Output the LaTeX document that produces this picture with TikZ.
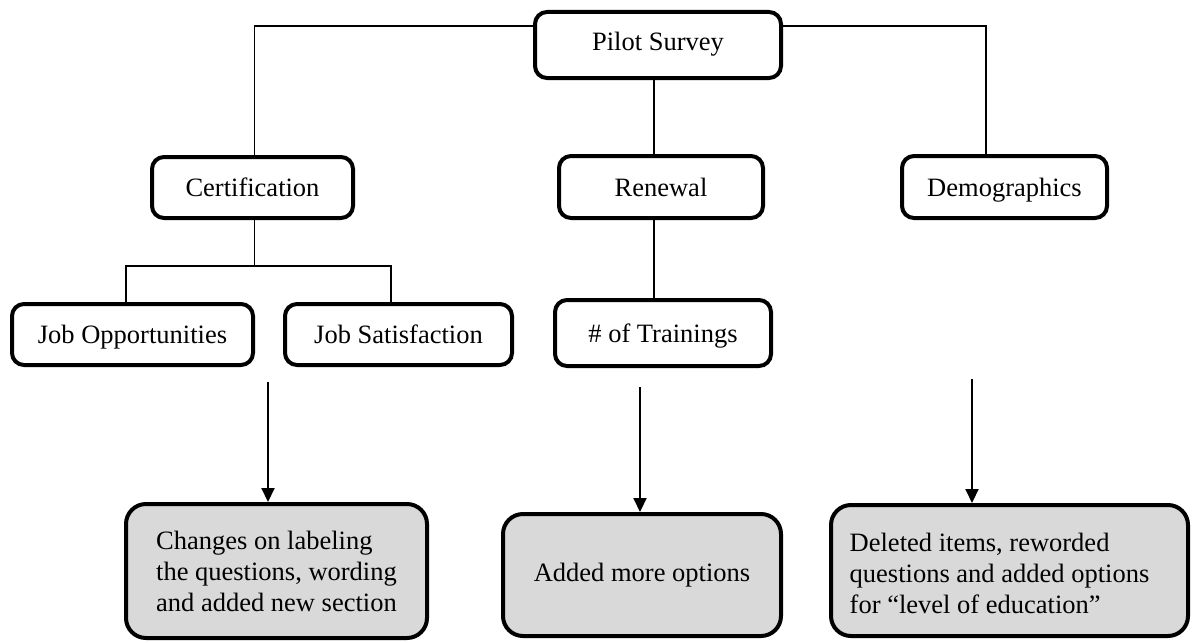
\documentclass[tikz,border=0pt]{standalone}
\usepackage{fontspec}
\setmainfont{Liberation Serif}
\usetikzlibrary{arrows.meta}
\definecolor{boxgray}{HTML}{D9D9D9}
\begin{document}
\begin{tikzpicture}[x=1pt,y=-1pt,
  box/.style={draw, line width=4pt, rounded corners=12pt, inner sep=0pt,
    text height=18.5pt, text depth=0.5pt,
    font=\fontsize{26.5}{31}\selectfont},
  res/.style={draw, line width=4pt, rounded corners=20pt, fill=boxgray, inner sep=0pt,
    font=\fontsize{26.5}{31}\selectfont},
  link/.style={line width=1.3pt},
  arr/.style={line width=2pt, -{Triangle[width=13pt,length=14pt]}}]
\useasboundingbox (0,0) rectangle (1193,642);

\node[box, minimum width=246pt, minimum height=66pt] (pilot) at (658,45) {\raisebox{3pt}{Pilot Survey}};
\node[box, minimum width=201pt, minimum height=61pt] (cert) at (252.5,187.5) {Certification};
\node[box, minimum width=204pt, minimum height=62pt] (renew) at (661,187) {Renewal};
\node[box, minimum width=205pt, minimum height=62pt] (demo) at (1004.5,187) {Demographics};
\node[box, minimum width=241pt, minimum height=61pt] (jobopp) at (132.5,334.5) {Job Opportunities};
\node[box, minimum width=227pt, minimum height=61pt] (jobsat) at (398.5,334.5) {Job Satisfaction};
\node[box, minimum width=216pt, minimum height=66pt] (train) at (663,333) {\# of Trainings\hspace{18pt}};

\node[res, minimum width=301pt, minimum height=134pt, align=left] (box1) at (276.5,571)
  {Changes on labeling\\the questions, wording\\and added new section};
\node[res, minimum width=278pt, minimum height=122pt, align=center] (box2) at (642,575)
  {\raisebox{-3pt}{Added more options}};
\node[res, minimum width=357pt, minimum height=131pt] (box3) at (1009.5,570.5)
  {\raisebox{-6pt}[\height][\depth]{\begin{tabular}{@{}l@{}}Deleted items, reworded\\questions and added options\\for “level of education”\end{tabular}}\hspace*{20pt}};

\draw[link] ([yshift=19pt]pilot.west) -| ([xshift=2pt]cert.north);
\draw[link] ([yshift=19pt]pilot.east) -| ([xshift=-18.5pt]demo.north);
\draw[link] ([xshift=-4pt]pilot.south) -- ([xshift=-4pt]pilot.south |- renew.north);
\draw[link] ([xshift=-7pt]renew.south) -- ([xshift=-7pt]renew.south |- train.north);
\draw[link] ([xshift=2pt]cert.south) -- ++(0,46) coordinate (cj);
\draw[link] ([xshift=-6.5pt]jobopp.north) |- (cj) -| ([xshift=-7.5pt]jobsat.north);

\coordinate (t1) at (268,382);
\coordinate (t2) at (640,387);
\coordinate (t3) at (972,379);
\draw[arr] (t1) -- (t1 |- box1.north);
\draw[arr] (t2) -- (t2 |- box2.north);
\draw[arr] (t3) -- (t3 |- box3.north);
\end{tikzpicture}
\end{document}
